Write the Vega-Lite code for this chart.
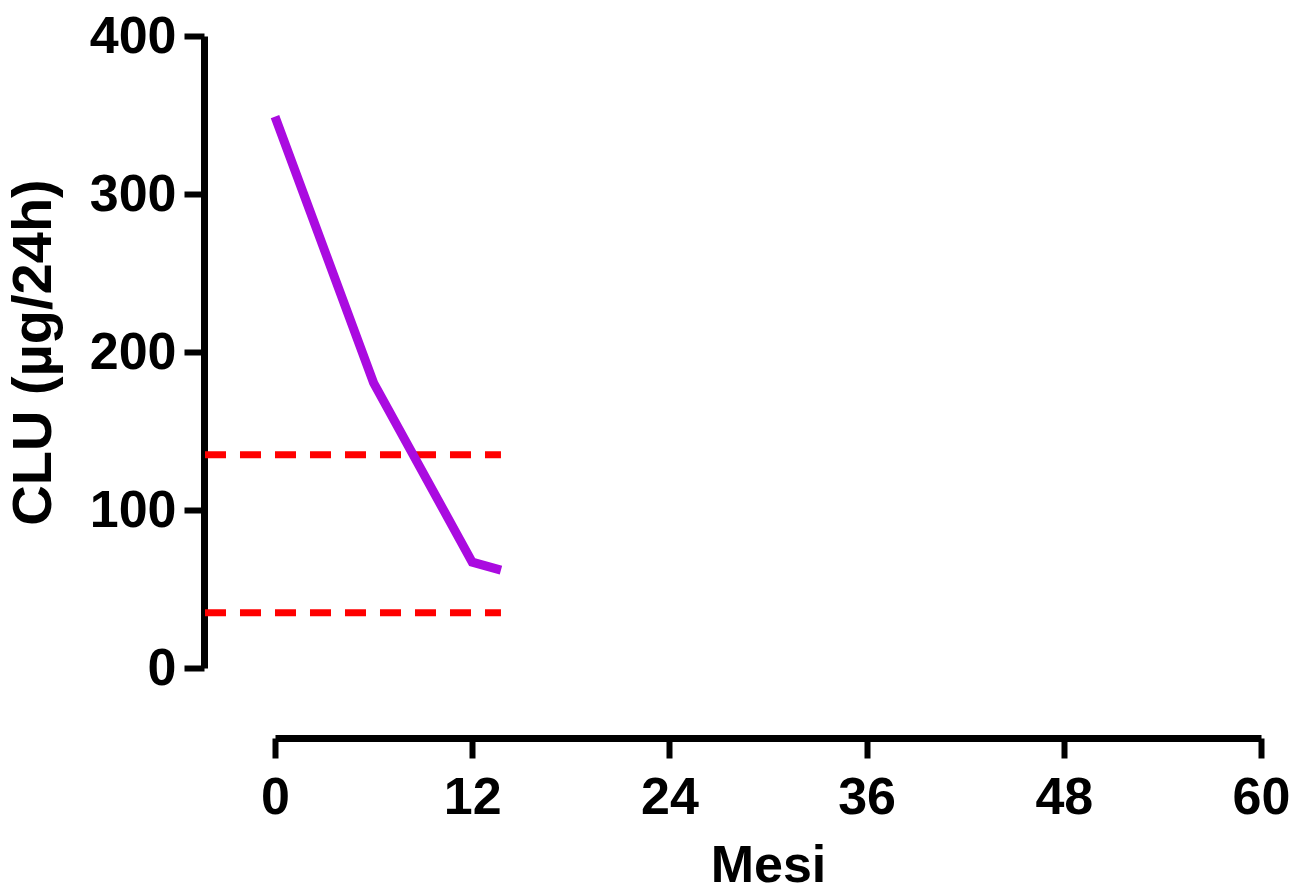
{
  "$schema": "https://vega.github.io/schema/vega-lite/v6.json",
  "autosize": "none",
  "width": 986,
  "height": 632,
  "padding": {"left": 275, "top": 36, "right": 33, "bottom": 225},
  "background": "white",
  "config": {
    "view": {"stroke": null},
    "axis": {
      "grid": false,
      "domainColor": "black",
      "domainWidth": 7,
      "tickColor": "black",
      "tickWidth": 6,
      "tickSize": 20,
      "labelFont": "Liberation Sans",
      "labelFontWeight": "bold",
      "labelFontSize": 52,
      "labelColor": "black",
      "titleFont": "Liberation Sans",
      "titleFontWeight": "bold",
      "titleFontSize": 52,
      "titleColor": "black"
    }
  },
  "datasets": {
    "clu": [
      {"mesi": 0, "clu": 349},
      {"mesi": 6, "clu": 180.5},
      {"mesi": 12, "clu": 67},
      {"mesi": 13.75, "clu": 62}
    ],
    "ref": [
      {"x1": -4.26, "x2": 13.75, "clu": 135},
      {"x1": -4.26, "x2": 13.75, "clu": 35}
    ]
  },
  "layer": [
    {
      "data": {"name": "ref"},
      "mark": {"type": "rule", "color": "#FF0000", "strokeWidth": 7, "strokeDash": [21, 14]},
      "encoding": {
        "x": {"field": "x1", "type": "quantitative"},
        "x2": {"field": "x2"},
        "y": {"field": "clu", "type": "quantitative"}
      }
    },
    {
      "data": {"name": "clu"},
      "mark": {"type": "line", "color": "#AA0BE0", "strokeWidth": 9, "strokeJoin": "miter"},
      "encoding": {
        "x": {
          "field": "mesi",
          "type": "quantitative",
          "scale": {"domain": [0, 60], "nice": false, "zero": false},
          "axis": {"title": "Mesi", "values": [0, 12, 24, 36, 48, 60], "offset": 70, "labelPadding": 14, "titlePadding": 17, "labelFlush": false}
        },
        "y": {
          "field": "clu",
          "type": "quantitative",
          "scale": {"domain": [0, 400], "nice": false},
          "axis": {"title": "CLU (µg/24h)", "titleFontSize": 56, "values": [0, 100, 200, 300, 400], "offset": 71, "labelPadding": 8, "titlePadding": 27, "labelFlush": false}
        }
      }
    }
  ]
}
